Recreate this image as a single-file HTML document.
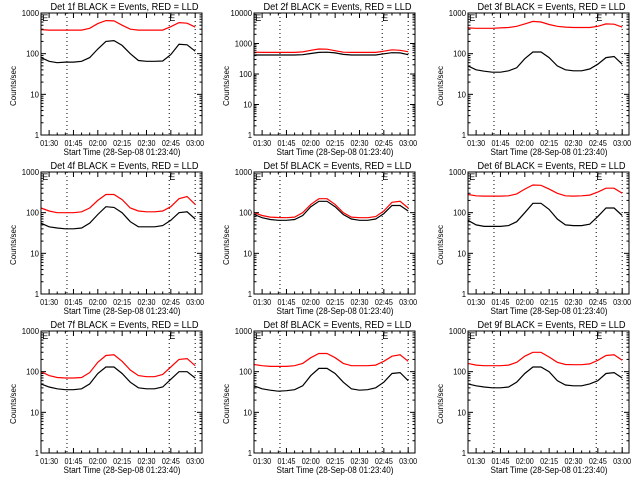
<!DOCTYPE html>
<html><head><meta charset="utf-8"><style>
html,body{margin:0;padding:0;background:#fff;}
svg{display:block;font-family:"Liberation Sans",sans-serif;}
</style></head><body>
<svg id="chart" width="640" height="480" viewBox="0 0 640 480" xmlns="http://www.w3.org/2000/svg">
<rect x="0" y="0" width="640" height="480" fill="#fff"/>
</svg>
<script>
// time grid in minutes after 01:25
const times = [0,5,10,15,20,25,30,35,40,45,50,55,60,65,70,75,80,85,90,95];
const panelTitles = ["Det 1f BLACK = Events, RED = LLD","Det 2f BLACK = Events, RED = LLD","Det 3f BLACK = Events, RED = LLD","Det 4f BLACK = Events, RED = LLD","Det 5f BLACK = Events, RED = LLD","Det 6f BLACK = Events, RED = LLD","Det 7f BLACK = Events, RED = LLD","Det 8f BLACK = Events, RED = LLD","Det 9f BLACK = Events, RED = LLD"];
const yMaxDecades = [3,4,3,3,3,3,3,3,3];
const black1 = [80,65,60,62,62,65,80,130,200,210,160,100,68,65,65,66,95,170,165,115];
const red1 = [390,380,380,380,380,380,420,550,650,640,500,400,380,380,380,380,460,580,560,450];
const black2 = [420,420,420,420,420,420,430,470,510,520,490,440,420,420,420,420,460,500,490,430];
const red2 = [520,510,510,510,510,510,530,600,660,650,580,520,510,510,510,510,560,620,600,540];
const black3 = [50,40,37,35,35,38,45,75,110,110,80,50,40,38,38,42,55,80,85,55];
const red3 = [430,420,420,420,430,440,470,540,620,600,520,470,450,440,440,440,470,540,530,450];
const black4 = [55,45,42,40,40,42,55,90,140,135,100,60,45,45,45,48,65,100,105,70];
const red4 = [130,110,100,100,100,105,130,200,280,280,210,130,110,105,105,110,140,220,250,160];
const black5 = [90,75,68,65,65,68,85,140,190,190,140,90,70,65,65,70,95,150,150,110];
const red5 = [100,85,78,76,75,78,100,160,220,220,160,100,78,75,75,80,110,180,190,130];
const black6 = [65,50,46,46,46,48,60,100,170,170,120,70,50,48,48,52,80,130,130,85];
const red6 = [280,260,255,255,255,260,290,380,480,470,380,300,260,255,260,270,320,400,400,300];
const black7 = [50,42,38,36,36,38,50,90,130,130,90,55,40,38,38,42,65,100,100,70];
const red7 = [100,80,72,70,70,72,95,170,250,260,180,110,80,75,75,85,130,200,210,140];
const black8 = [45,38,35,33,34,36,45,80,120,120,90,55,38,35,36,40,55,90,95,60];
const red8 = [150,140,135,135,135,140,160,220,280,280,220,160,140,140,140,145,180,240,260,180];
const black9 = [50,45,42,40,40,42,55,90,130,130,100,60,47,45,45,50,60,90,95,70];
const red9 = [160,145,140,140,140,145,170,240,300,300,230,170,150,148,148,155,190,250,260,190];
const blackSeries = [black1,black2,black3,black4,black5,black6,black7,black8,black9];
const redSeries = [red1,red2,red3,red4,red5,red6,red7,red8,red9];
const xTickLabels = ["01:30","01:45","02:00","02:15","02:30","02:45","03:00"];
const xTickMinutes = [5,20,35,50,65,80,95];
const markerMinutes = [16,79,95];
const eMarkerMinutes = [0.8,79];

const svg = document.getElementById('chart');
const NS = 'http://www.w3.org/2000/svg';
function mk(tag, attrs, parent){
  const e = document.createElementNS(NS, tag);
  for (const k in attrs) e.setAttribute(k, attrs[k]);
  (parent||svg).appendChild(e);
  return e;
}
const colX = [41,254,468], rowY = [13,172,331];
const W = 161, H = 122, TMAX = 99.2;

for (let p = 0; p < 9; p++) {
  const x0 = colX[p%3], y0 = rowY[Math.floor(p/3)];
  const dec = yMaxDecades[p];
  const g = mk('g', {});
  
  
  const xs = t => x0 + t / TMAX * W;
  const ys = v => y0 + H - Math.log10(v) / dec * H;

  const title = mk('text', {x: x0 + W/2 + 3, y: y0 - 3, 'font-size': 10, 'text-anchor': 'middle', textLength: 148, lengthAdjust: 'spacingAndGlyphs'}, g);
  title.textContent = panelTitles[p];
  
  

  markerMinutes.forEach(m => {
    const l = mk('line', {x1: xs(m), x2: xs(m), y1: y0, y2: y0+H, stroke: '#000', 'stroke-width': 1, 'stroke-dasharray': '1,3'}, g);
    
    
  });
  eMarkerMinutes.forEach(m => {
    const t = mk('text', {x: xs(m), y: y0 + 8, 'font-size': 9}, g);
    t.textContent = 'E';
    
    
  });

  const mkLine = (arr, col, name) => {
    const pts = times.map((t,i) => xs(t).toFixed(1) + ',' + ys(arr[i]).toFixed(1)).join(' ');
    const pl = mk('polyline', {points: pts, fill: 'none', stroke: col, 'stroke-width': 1.2}, g);
    
    
  };
  mkLine(redSeries[p], '#ff0000', 'lld-rate-line');
  mkLine(blackSeries[p], '#000', 'event-rate-line');

  const fr = mk('rect', {x: x0, y: y0, width: W, height: H, fill: 'none', stroke: '#000', 'stroke-width': 1}, g);
  
  

  for (let d = 0; d <= dec; d++) {
    const yy = ys(Math.pow(10, d));
    mk('line', {x1: x0, x2: x0+5, y1: yy, y2: yy, stroke: '#000'}, g);
    mk('line', {x1: x0+W-5, x2: x0+W, y1: yy, y2: yy, stroke: '#000'}, g);
    const s = String(Math.pow(10, d));
    const lab = mk('text', {x: x0 - 2, y: yy + 3, 'font-size': 8, 'text-anchor': 'end', textLength: 4.3 * s.length, lengthAdjust: 'spacingAndGlyphs'}, g);
    lab.textContent = s;
    
    
    if (d < dec) for (let k = 2; k <= 9; k++) {
      const ym = ys(k * Math.pow(10, d));
      mk('line', {x1: x0, x2: x0+2.5, y1: ym, y2: ym, stroke: '#000'}, g);
      mk('line', {x1: x0+W-2.5, x2: x0+W, y1: ym, y2: ym, stroke: '#000'}, g);
    }
  }
  xTickMinutes.forEach((m, i) => {
    const xx = xs(m);
    mk('line', {x1: xx, x2: xx, y1: y0+H, y2: y0+H-5, stroke: '#000'}, g);
    mk('line', {x1: xx, x2: xx, y1: y0, y2: y0+5, stroke: '#000'}, g);
    const lab = mk('text', {x: xx, y: y0 + H + 11, 'font-size': 8.5, 'text-anchor': 'middle', textLength: 18, lengthAdjust: 'spacingAndGlyphs'}, g);
    lab.textContent = xTickLabels[i];
    
    
  });
  for (let m = 0; m <= 95; m += 5) {
    if (xTickMinutes.includes(m)) continue;
    const xx = xs(m);
    mk('line', {x1: xx, x2: xx, y1: y0+H, y2: y0+H-2.5, stroke: '#000'}, g);
    mk('line', {x1: xx, x2: xx, y1: y0, y2: y0+2.5, stroke: '#000'}, g);
  }
  const xt = mk('text', {x: x0 + W/2 + 0.5, y: y0 + H + 20, 'font-size': 9, 'text-anchor': 'middle', textLength: 117, lengthAdjust: 'spacingAndGlyphs'}, g);
  xt.textContent = 'Start Time (28-Sep-08 01:23:40)';
  
  
  const yt = mk('text', {x: 0, y: 0, 'font-size': 8, 'text-anchor': 'middle', transform: 'translate(' + (x0 - 25) + ',' + (y0 + H/2 + 12) + ') rotate(-90)'}, g);
  yt.textContent = 'Counts/sec';
  
  
}
</script>
</body></html>
